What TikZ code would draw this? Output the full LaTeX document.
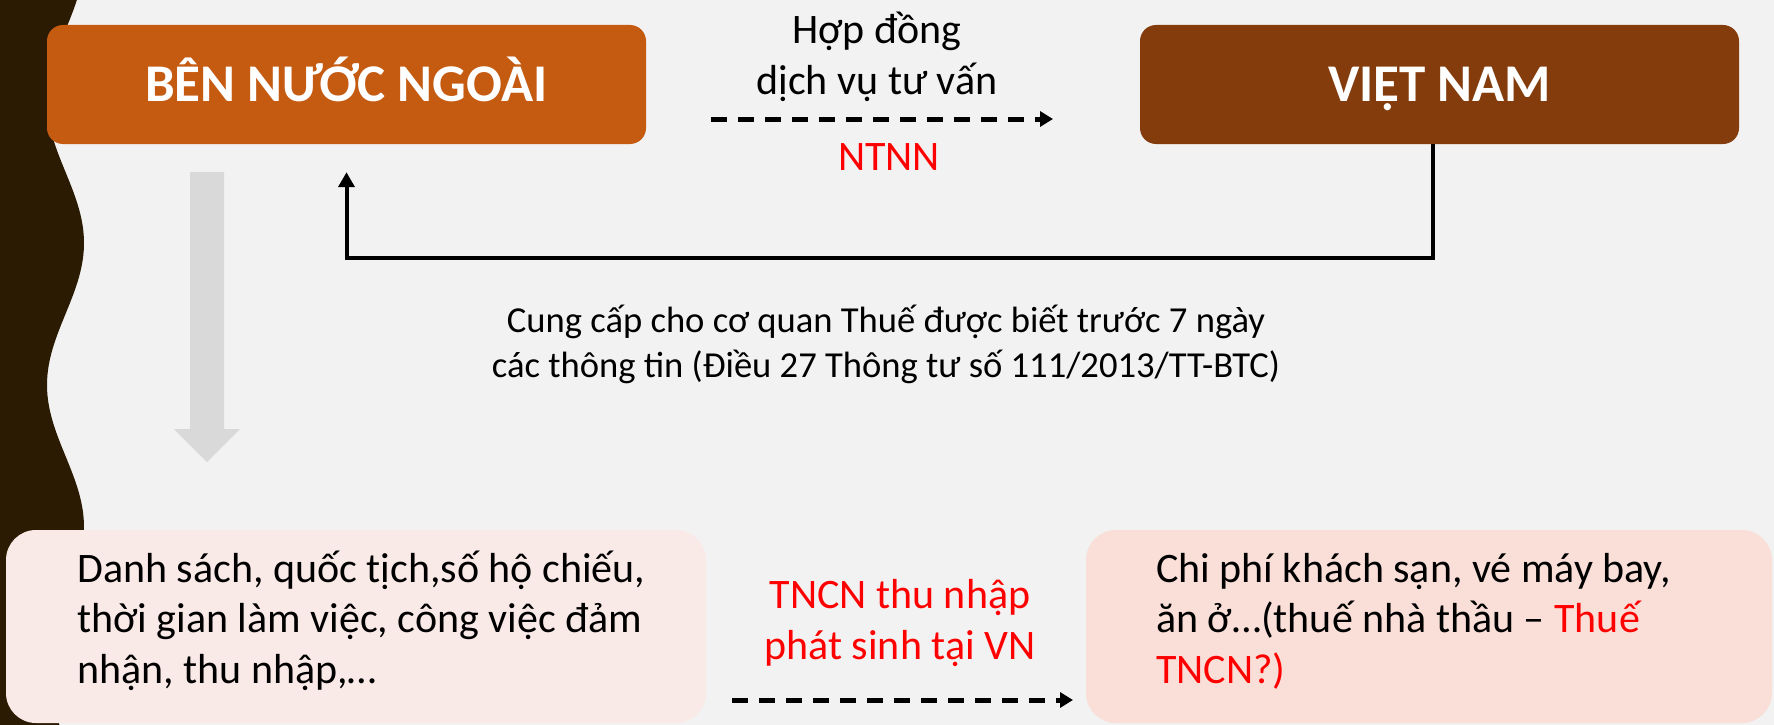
\documentclass[tikz,border=0pt]{standalone}
\usepackage{fontspec}
\setmainfont{Carlito}
\usetikzlibrary{arrows.meta}
\definecolor{bgcol}{HTML}{F2F2F2}
\definecolor{wavecol}{HTML}{2B1B03}
\definecolor{foreigncol}{HTML}{C55A11}
\definecolor{vncol}{HTML}{843C0C}
\definecolor{leftpink}{HTML}{FAEAE7}
\definecolor{rightpink}{HTML}{F9DFD8}
\definecolor{shaftgray}{HTML}{D9D9D9}
\definecolor{alertred}{HTML}{FF0000}
\begin{document}
\begin{tikzpicture}[x=1pt,y=-1pt,
  partybox/.style={rounded corners=16pt, inner sep=0pt, minimum width=599pt,
    minimum height=119pt, text=white, text height=34pt, text depth=0pt,
    font=\fontsize{53}{63}\selectfont\bfseries},
  infobox/.style={rounded corners=30pt, inner sep=0pt, minimum height=193pt},
  bodytext/.style={inner sep=0pt, font=\fontsize{42}{50.5}\selectfont},
  notetext/.style={inner sep=0pt, font=\fontsize{36.6}{45}\selectfont},
  dasharrow/.style={line width=5pt, dash pattern=on 16pt off 11pt,
    -{Triangle[length=13pt,width=15pt]}},
  flowarrow/.style={line width=4pt, -{Triangle[length=15pt,width=16pt]}},
]
\useasboundingbox (0,0) rectangle (1774,725);
\fill[bgcol] (0,0) rectangle (1774,725);
% dark wavy band on the left edge
\fill[wavecol] (0,0) -- plot[domain=0:725, samples=140]
  ({65.5-18.5*cos((\x-101)*1.2676)}, \x) -- (0,725) -- cycle;
% light grey block arrow
\fill[shaftgray] (190,172) -- (224,172) -- (224,429) -- (240,429) -- (207,462)
  -- (174,429) -- (190,429) -- cycle;

% the two parties
\node[partybox, fill=foreigncol] (foreign) at (346.5,84.5) {BÊN NƯỚC NGOÀI};
\node[partybox, fill=vncol] (vn) at (1439.5,84.5) {VIỆT NAM};

% contract between them (base anchor = baseline of the last line)
\node[bodytext, align=center, anchor=base] (contract) at (877,94)
  {Hợp đồng\\dịch vụ tư vấn};
\node[bodytext, text=alertred, anchor=base] (ntnn) at (889,170) {NTNN};
\coordinate (cstart) at (711,119);
\coordinate (cend) at (1053,119);
\draw[dasharrow] (cstart) -- (cend);

% information flow back to the foreign party
\draw[flowarrow] ([xshift=-7pt]vn.south) |- ([yshift=-114pt]foreign.south)
  -- ([yshift=-28pt]foreign.south);
\node[notetext, align=center, anchor=base] (notice) at (886,377)
  {Cung cấp cho cơ quan Thuế được biết trước 7 ngày\\
   các thông tin (Điều 27 Thông tư số 111/2013/TT-BTC)};

% lower boxes
\node[infobox, fill=leftpink, minimum width=700pt] (staff) at (356,626.5) {};
\node[infobox, fill=rightpink, minimum width=686pt] (costs) at (1429,626.5) {};
\node[bodytext, align=left, anchor=base west] (stafftext) at (77,683)
  {Danh sách, quốc tịch,số hộ chiếu,\\thời gian làm việc, công việc đảm\\nhận, thu nhập,…};
\node[bodytext, align=left, anchor=base west] (coststext) at (1156,683)
  {Chi phí khách sạn, vé máy bay,\\ăn ở…(thuế nhà thầu – \textcolor{alertred}{Thuế}\\\textcolor{alertred}{TNCN?)}};
\node[bodytext, text=alertred, align=center, anchor=base] (pit) at (900,659)
  {TNCN thu nhập\\phát sinh tại VN};
\coordinate (pstart) at (732,700);
\coordinate (pend) at (1073,700);
\draw[dasharrow] (pstart) -- (pend);
\end{tikzpicture}
\end{document}
